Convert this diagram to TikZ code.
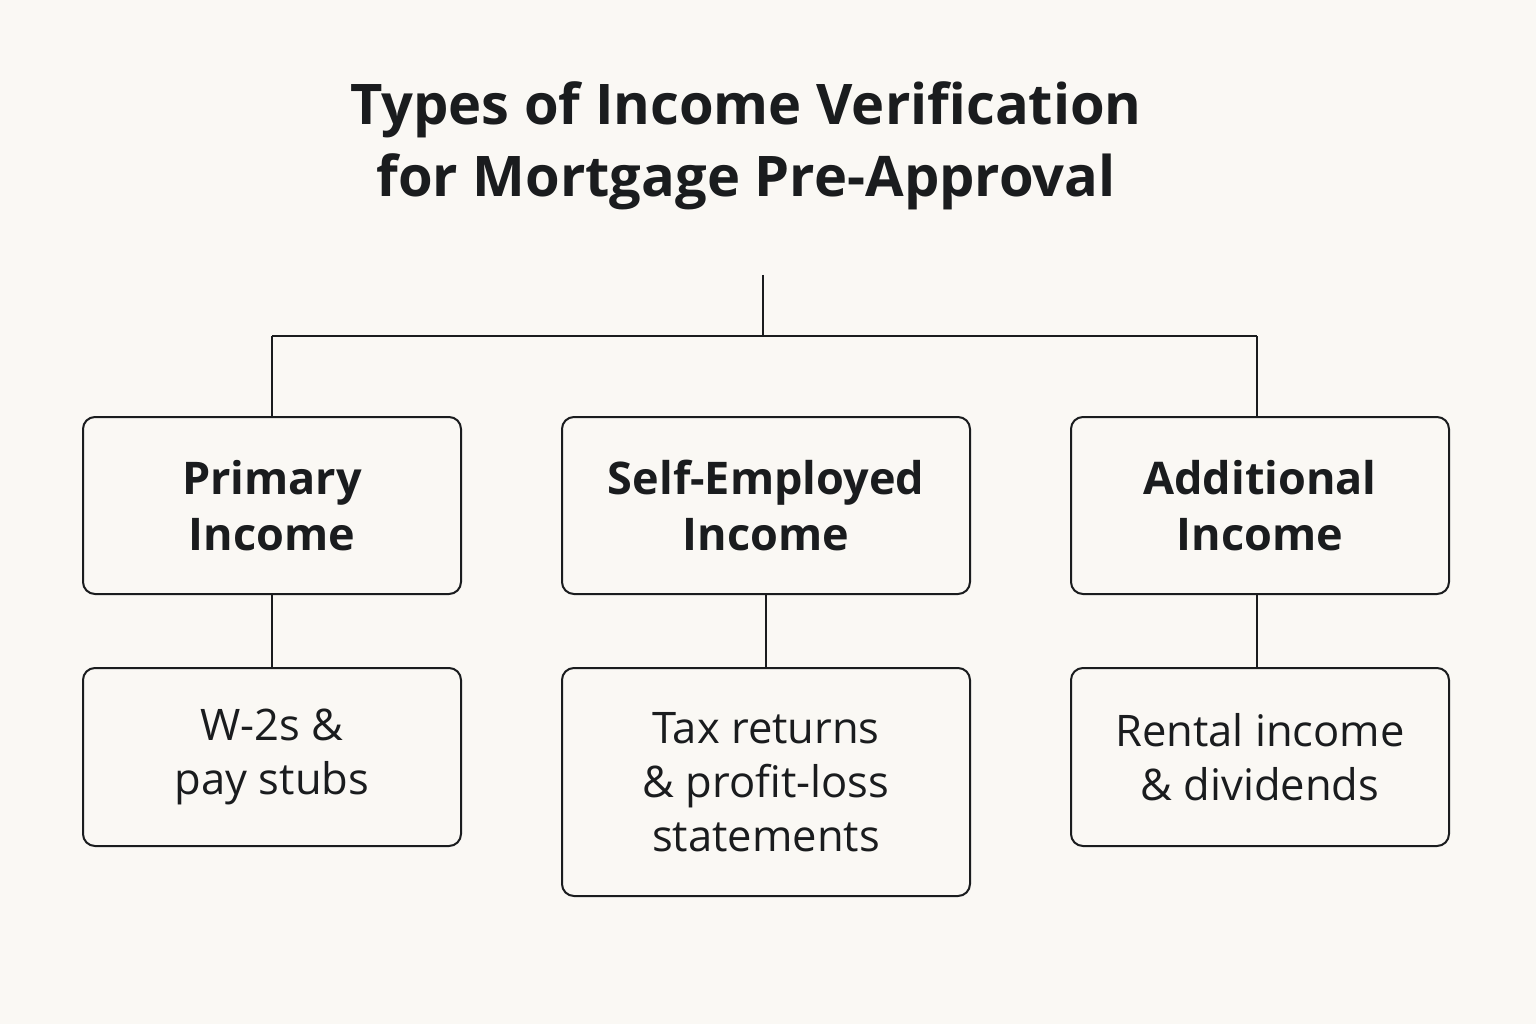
\documentclass[tikz,border=0pt]{standalone}
\usepackage{fontspec}
\setmainfont{Open Sans}
\definecolor{bg}{HTML}{FAF8F4}
\definecolor{ink}{HTML}{1A1C1E}
\begin{document}
\begin{tikzpicture}[x=1pt,y=-1pt,
  box/.style={draw=ink,line width=2pt,rounded corners=12pt,inner sep=0pt},
  head/.style={text=ink,font=\fontsize{45}{56}\selectfont\bfseries,align=center},
  body/.style={text=ink,font=\fontsize{43.5}{54}\selectfont,align=center},
  conn/.style={draw=ink,line width=2pt}]
\fill[bg] (0,0) rectangle (1536,1024);
\useasboundingbox (0,0) rectangle (1536,1024);
\node[text=ink,font=\fontsize{56}{72}\selectfont\bfseries,align=center] (title) at (746,146) {Types of Income Verification\\for Mortgage Pre-Approval};
\coordinate (top) at (763,275);
\coordinate (bar) at (763,336);
\coordinate (barL) at (272,336);
\coordinate (barR) at (1257,336);
\node[box,minimum width=378pt,minimum height=177pt] (p) at (272,505.5) {};
\node[box,minimum width=408pt,minimum height=177pt] (s) at (766,505.5) {};
\node[box,minimum width=378pt,minimum height=177pt] (a) at (1260,505.5) {};
\node[head] at (p) {Primary\\Income};
\node[head] at (s) {Self-Employed\\Income};
\node[head] at (a) {Additional\\Income};
\node[box,minimum width=378pt,minimum height=178pt] (p2) at (272,757) {};
\node[box,minimum width=408pt,minimum height=228pt] (s2) at (766,782) {};
\node[box,minimum width=378pt,minimum height=178pt] (a2) at (1260,757) {};
\node[body] at (p2) {W-2s \&\\pay stubs};
\node[body] at (s2) {Tax returns\\\& profit-loss\\statements};
\node[body] at (a2) {Rental income\\\& dividends};
\draw[conn] (top) -- (bar);
\draw[conn] (barL) -- (barR);
\draw[conn] (barL) -- (p.north -| barL);
\draw[conn] (barR) -- (a.north -| barR);
\draw[conn] (p.south -| barL) -- (p2.north -| barL);
\draw[conn] (s.south) -- (s2.north);
\draw[conn] (a.south -| barR) -- (a2.north -| barR);
\end{tikzpicture}
\end{document}
